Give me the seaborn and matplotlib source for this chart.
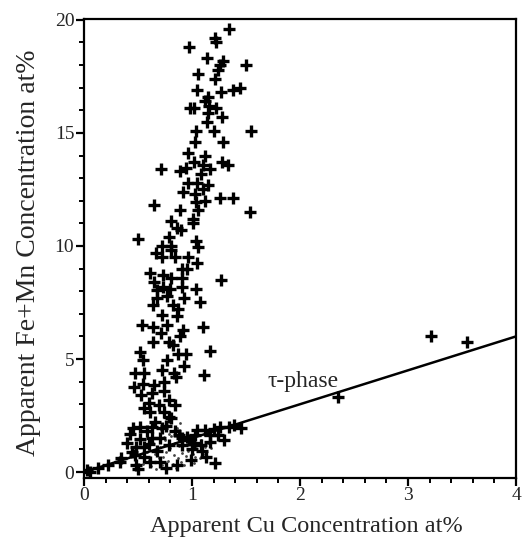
import matplotlib
import matplotlib.pyplot as plt
import seaborn as sns
from matplotlib.ticker import MultipleLocator

matplotlib.use('Agg')

# measured points: apparent Cu at% vs apparent Fe+Mn at%
cu_conc = [
    1.34, 1.21, 1.22, 0.97, 1.14, 1.29, 1.26, 1.24, 1.50, 1.06,
    1.21, 1.05, 1.27, 1.38, 1.44, 1.15, 1.12, 0.98, 1.02, 1.16,
    1.22, 1.15, 1.28, 1.14, 1.04, 1.20, 1.55, 1.03, 1.29, 0.96,
    1.12, 0.71, 1.02, 1.10, 1.28, 1.33, 0.89, 0.94, 1.08, 1.17,
    0.96, 1.05, 1.15, 0.92, 1.10, 1.03, 1.12, 1.26, 1.38, 1.04,
    0.65, 0.89, 1.06, 1.54, 1.01, 0.81, 1.01, 0.86, 0.90, 0.79,
    1.04, 0.72, 0.81, 0.50, 0.81, 1.06, 0.72, 0.84, 0.96, 1.05,
    0.61, 0.73, 0.81, 0.91, 0.95, 1.27, 0.65, 0.73, 0.91, 1.04,
    0.68, 0.77, 0.93, 1.07, 0.64, 0.82, 0.87, 0.72, 0.86, 0.54,
    0.64, 0.77, 0.92, 1.10, 0.71, 0.89, 0.64, 0.79, 0.82, 1.17,
    0.52, 0.55, 0.77, 0.87, 0.94, 0.93, 1.11, 0.47, 0.56, 0.72,
    0.83, 0.85, 0.46, 0.55, 0.65, 0.74, 0.53, 0.63, 0.74, 0.60,
    0.69, 0.79, 0.84, 0.61, 0.74, 0.79, 0.45, 0.43, 0.63, 0.72,
    0.81, 0.48, 0.56, 0.33, 0.22, 0.13, 0.03, 0.06, 0.48, 0.61,
    0.56, 0.70, 0.79, 0.91, 0.97, 1.05, 1.26, 1.39, 1.45, 1.03,
    1.17, 1.24, 1.30, 0.91, 1.00, 1.13, 1.21, 1.08, 0.56, 0.63,
    1.02, 1.17, 0.34, 0.47, 0.50, 0.67, 0.91, 0.68, 0.80,
    0.52, 0.58, 0.66, 0.76, 0.84, 0.88, 0.95, 1.12, 1.20, 1.34,
    0.40, 0.44, 0.52, 0.60, 0.68, 0.86, 0.99, 1.09, 0.76, 0.70,
    2.35, 3.21, 3.55,
]
femn_conc = [
    19.6, 19.2, 19.0, 18.8, 18.3, 18.2, 18.0, 17.8, 18.0, 17.6,
    17.4, 16.9, 16.8, 16.9, 17.0, 16.6, 16.4, 16.1, 16.1, 16.2,
    16.1, 15.9, 15.7, 15.5, 15.1, 15.1, 15.1, 14.6, 14.6, 14.1,
    14.0, 13.4, 13.7, 13.6, 13.7, 13.6, 13.3, 13.45, 13.2, 13.4,
    12.8, 12.8, 12.7, 12.4, 12.5, 12.3, 12.0, 12.1, 12.1, 11.95,
    11.8, 11.6, 11.6, 11.5, 11.2, 11.1, 11.0, 10.8, 10.7, 10.4,
    10.2, 10.0, 10.0, 10.3, 9.8, 9.95, 9.5, 9.5, 9.5, 9.25,
    8.8, 8.7, 8.6, 8.6, 9.0, 8.5, 8.4, 8.2, 8.2, 8.1,
    7.7, 7.8, 7.7, 7.5, 7.4, 7.4, 7.2, 6.95, 6.9, 6.5,
    6.4, 6.5, 6.3, 6.4, 6.15, 6.0, 5.75, 5.75, 5.6, 5.35,
    5.3, 4.95, 4.95, 5.2, 5.2, 4.7, 4.3, 4.4, 4.4, 4.5,
    4.4, 4.2, 3.75, 3.9, 3.85, 4.0, 3.4, 3.5, 3.6, 3.05,
    2.95, 3.2, 2.95, 2.65, 2.65, 2.45, 1.95, 1.7, 2.0, 1.95,
    2.4, 1.1, 1.1, 0.45, 0.3, 0.2, 0.1, 0.0, 0.3, 0.45,
    0.65, 1.5, 1.2, 1.5, 1.4, 1.85, 2.0, 2.1, 1.95, 1.65,
    1.65, 1.65, 1.4, 1.2, 1.0, 0.65, 0.4, 1.2, 2.85, 1.5,
    1.3, 1.35, 0.6, 0.75, 0.15, 9.7, 9.0, 8.05, 8.1,
    2.0, 1.8, 2.2, 2.05, 1.8, 1.65, 1.55, 1.85, 1.9, 2.0,
    1.3, 0.9, 1.45, 1.25, 0.95, 0.3, 0.55, 0.95, 0.2, 0.45,
    3.3, 6.0, 5.75,
]

# stippled (unresolved) spots in the dense low-Fe region
fine_cu = [0.55, 0.60, 0.62, 0.66, 0.68, 0.70, 0.72, 0.73, 0.75, 0.76,
           0.78, 0.79, 0.80, 0.82, 0.83, 0.84, 0.86, 0.87, 0.88, 0.90,
           0.91, 0.92, 0.94, 0.95, 0.97, 0.98, 1.00, 1.01, 1.03, 1.04,
           1.06, 1.08, 1.10, 1.12, 1.15, 1.18, 0.64, 0.71, 0.77, 0.58,
           0.85, 0.93, 1.02, 0.67, 0.89, 0.74, 0.81, 0.96, 1.07, 0.69]
fine_femn = [0.35, 0.55, 0.25, 0.80, 0.45, 1.10, 0.30, 0.65, 1.40, 0.90,
             0.50, 1.70, 1.05, 0.35, 0.75, 1.30, 1.95, 0.60, 1.15, 0.45,
             0.85, 1.55, 0.70, 1.25, 0.55, 1.00, 1.45, 0.80, 0.65, 1.15,
             0.95, 1.40, 0.80, 1.10, 1.30, 1.05, 1.30, 1.85, 2.10, 0.90,
             0.20, 0.30, 0.40, 0.15, 2.15, 1.55, 1.60, 0.95, 0.60, 0.60]

# tau-phase tie line
tau_cu = [0.0, 4.0]
tau_femn = [0.0, 6.0]

sns.set_theme(style="ticks")
plt.rcParams['font.family'] = ['Liberation Serif', 'DejaVu Serif']

fig = plt.figure(figsize=(5.26, 5.51), dpi=100)
ax = fig.add_axes([0.1597, 0.133, 0.8213, 0.833])

sns.lineplot(x=tau_cu, y=tau_femn, color="black", linewidth=1.8, ax=ax)
sns.scatterplot(x=fine_cu, y=fine_femn, color="#444444", s=4, marker="o",
                linewidth=0, ax=ax)
sns.scatterplot(x=cu_conc, y=femn_conc, color="black", marker="+", s=80,
                linewidth=2.4, ax=ax)

ax.text(2.03, 4.0, "τ-phase", ha="center", va="center", fontsize=17)

ax.set_xlim(0, 4)
ax.set_ylim(-0.25, 20.05)
ax.xaxis.set_major_locator(MultipleLocator(1))
ax.xaxis.set_minor_locator(MultipleLocator(0.2))
ax.yaxis.set_major_locator(MultipleLocator(5))
ax.yaxis.set_minor_locator(MultipleLocator(1))
ax.tick_params(which="major", direction="out", length=6, width=1.6,
               labelsize=14, color="black", pad=1)
ax.tick_params(which="minor", direction="out", length=3.5, width=1.4,
               color="black")
for sp in ax.spines.values():
    sp.set_visible(True)
    sp.set_linewidth(1.6)
    sp.set_color("black")

ax.set_xlabel("Apparent Cu Concentration at%", fontsize=17.5)
ax.set_ylabel("Apparent Fe+Mn Concentration at%", fontsize=20)
ax.xaxis.set_label_coords(0.514, -0.083)
ax.yaxis.set_label_coords(-0.1, 0.49)

plt.savefig("out.png", dpi=100)
plt.close()
